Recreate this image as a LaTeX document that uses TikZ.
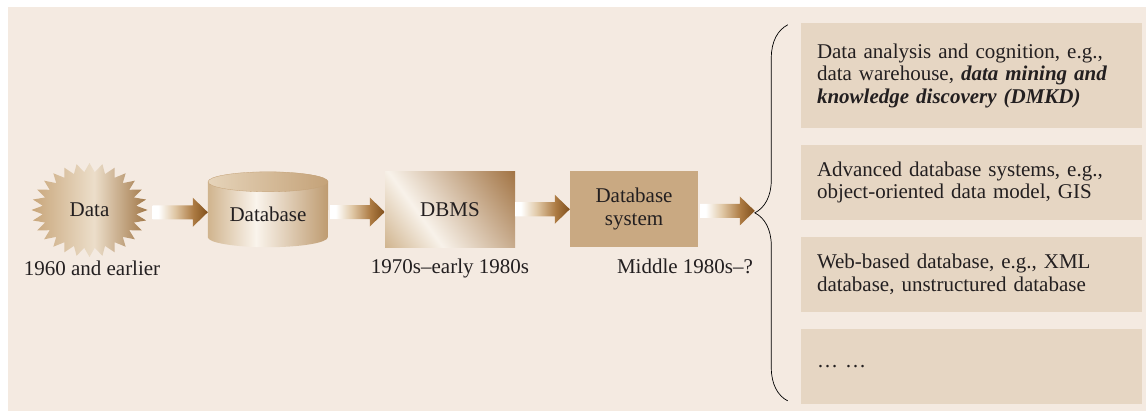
\documentclass[tikz,border=0pt]{standalone}
\usepackage{fontspec}
\setmainfont{Liberation Serif}
\usetikzlibrary{positioning,calc,backgrounds,decorations.pathreplacing}

\definecolor{pagebg}{RGB}{244,234,225}
\definecolor{boxbg}{RGB}{230,214,195}
\definecolor{sysbg}{RGB}{201,169,130}
\definecolor{arrowbrown}{RGB}{128,80,28}
\definecolor{arrowmid}{RGB}{172,122,66}
\definecolor{arrowtan}{RGB}{224,200,166}
\definecolor{starleft}{RGB}{200,166,122}
\definecolor{starglow}{RGB}{236,222,202}
\definecolor{starright}{RGB}{160,118,70}
\definecolor{cylleft}{RGB}{208,180,142}
\definecolor{cylglow}{RGB}{250,244,236}
\definecolor{cylright}{RGB}{190,155,112}
\definecolor{lidleft}{RGB}{230,212,186}
\definecolor{lidright}{RGB}{196,162,120}
\definecolor{boxleft}{RGB}{208,180,142}
\definecolor{boxglow}{RGB}{248,242,234}
\definecolor{boxdark}{RGB}{162,116,68}
\definecolor{inkcol}{RGB}{35,31,32}

\pgfdeclarehorizontalshading{flowshade}{100bp}{color(0bp)=(white); color(30bp)=(white);
  color(45bp)=(arrowtan); color(62bp)=(arrowmid); color(75bp)=(arrowbrown); color(100bp)=(arrowbrown)}
\pgfdeclarehorizontalshading{starshade}{100bp}{color(0bp)=(starleft); color(25bp)=(starleft);
  color(52bp)=(starglow); color(75bp)=(starright); color(100bp)=(starright)}
\pgfdeclarehorizontalshading{cylshade}{100bp}{color(0bp)=(cylleft); color(25bp)=(cylleft);
  color(45bp)=(cylglow); color(75bp)=(cylright); color(100bp)=(cylright)}
\pgfdeclarehorizontalshading{lidshade}{100bp}{color(0bp)=(lidleft); color(25bp)=(lidleft);
  color(75bp)=(lidright); color(100bp)=(lidright)}
\pgfdeclarehorizontalshading{dbmsshade}{100bp}{color(0bp)=(boxleft); color(15bp)=(boxleft);
  color(37bp)=(boxglow); color(85bp)=(boxdark); color(100bp)=(boxdark)}

\tikzset{
  topic/.style={fill=boxbg, text width=309pt, inner xsep=16pt, inner ysep=0pt,
    align=left, minimum height=75pt},
  flow/.style={shading=flowshade},
}

% block arrow: from, to, gap at start
\newcommand{\flowarrow}[3]{%
  \shade[flow] let \p1=#1, \p2=#2, \n1={(\y1+\y2)/2} in
    (\x1+#3,\n1+7) -- (\x2-15,\n1+7) -- (\x2-15,\n1+14.5) -- (\x2,\n1)
    -- (\x2-15,\n1-14.5) -- (\x2-15,\n1-7) -- (\x1+#3,\n1-7) -- cycle;}

\begin{document}
\begin{tikzpicture}[x=1pt, y=1pt, font=\fontsize{21}{22.5}\selectfont, text=inkcol]
  \useasboundingbox (0,0) rectangle (1146,413);

  % stages
  \node (data) [minimum width=116pt, minimum height=94pt] at (89.5,203) {Data};
  \node (db) [minimum width=120pt, minimum height=65pt] at (268,198.5) {Database};
  \node (dbms) [shade, shading=dbmsshade, shading angle=36,
    minimum width=130pt, minimum height=75pt] at (450,203.5) {DBMS};
  \node (sys) [fill=sysbg, minimum width=128pt, minimum height=76pt, align=center]
    at (634,204) {Database\\system};

  \node (datayear) at (92,145) {1960 and earlier};
  \node (dbmsyear) at (450,145) {1970s–early 1980s};
  \node (sysyear) at (685,147) {Middle 1980s–?};

  % topics
  \node (topic1) [topic, minimum height=105pt] at (971.5,337.5)
    {Data analysis and cognition, e.g.,\\data warehouse, \textbf{\textit{data mining and}}\\
     \textbf{\textit{knowledge discovery (DMKD)}}};
  \node (topic2) [topic, below=16.5pt of topic1]
    {Advanced database systems, e.g.,\\object-oriented data model, GIS};
  \node (topic3) [topic, below=16.5pt of topic2]
    {Web-based database, e.g., XML\\database, unstructured database};
  \node (topic4) [topic, below=16.5pt of topic3] {…\ …};

  \coordinate (bracebot) at ($(topic4.south west)+(-13,3)$);
  \coordinate (bracetop) at ($(topic1.north west)+(-13,-2)$);
  \coordinate (bracetip) at ($(bracebot)!0.5!(bracetop)+(-33,0)$);
  \draw[decorate, decoration={brace, amplitude=33pt}, line width=0.7pt]
    (bracebot) -- (bracetop);

  \flowarrow{(data.east)}{(db.west)}{5}
  \flowarrow{(db.east)}{(dbms.west)}{2}
  \flowarrow{(dbms.east)}{(sys.west)}{0}
  \flowarrow{(sys.east)}{(bracetip)}{2}

  \begin{pgfonlayer}{background}
    \fill[pagebg] (8,2) rectangle (1146,406);
    % star
    \shade[shading=starshade, shift={(data.center)}]
      plot[samples=57, domain=0:56, variable=\k]
      ({cos(6.428571*\k)*(52.5+5.5*cos(180*\k))}, {sin(6.428571*\k)*(42.5+4.5*cos(180*\k))}) -- cycle;
    % cylinder
    \shade[shading=cylshade]
      (db.north west) -- ([yshift=10pt]db.south west)
      arc[start angle=180, end angle=360, x radius=60, y radius=10]
      -- (db.north east)
      arc[start angle=0, end angle=180, x radius=60, y radius=10] -- cycle;
    \shade[shading=lidshade, draw=lidright, line width=0.3pt]
      (db.north) ellipse[x radius=60, y radius=10];
  \end{pgfonlayer}
\end{tikzpicture}
\end{document}
